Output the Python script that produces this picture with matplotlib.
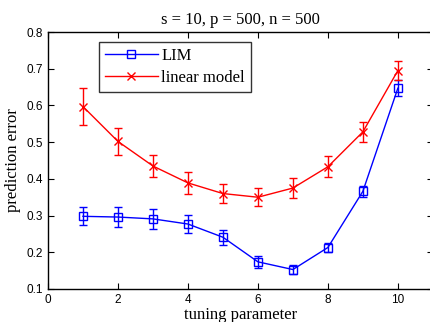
import numpy as np
import matplotlib
matplotlib.use("Agg")
import matplotlib.pyplot as plt
from matplotlib.lines import Line2D

# tuning parameter values
tuning = [1, 2, 3, 4, 5, 6, 7, 8, 9, 10]

# LIM prediction error and error bars
lim_err = [0.298, 0.296, 0.291, 0.277, 0.241, 0.174, 0.153, 0.213, 0.366, 0.647]
lim_sd = [0.025, 0.028, 0.027, 0.024, 0.020, 0.016, 0.013, 0.013, 0.015, 0.022]

# linear model prediction error and error bars
lin_err = [0.597, 0.502, 0.435, 0.389, 0.360, 0.350, 0.375, 0.433, 0.528, 0.695]
lin_sd = [0.050, 0.037, 0.030, 0.029, 0.026, 0.025, 0.028, 0.029, 0.027, 0.027]

serif = ['Liberation Serif', 'DejaVu Serif']
sans = ['Liberation Sans', 'DejaVu Sans']

fig = plt.figure(figsize=(4.3, 3.22), dpi=100)
ax = fig.add_axes([0.1116, 0.1025, 0.895, 0.798])

ax.errorbar(tuning, lim_err, yerr=lim_sd, color='#0000ff', marker='s',
            markersize=5.5, markerfacecolor='none', markeredgewidth=1.0,
            linewidth=1.0, elinewidth=1.0, capsize=3)
ax.errorbar(tuning, lin_err, yerr=lin_sd, color='#ff0000', marker='x',
            markersize=6, markeredgewidth=1.0,
            linewidth=1.0, elinewidth=1.0, capsize=3)

ax.set_xlim(0, 11)
ax.set_ylim(0.1, 0.8)
ax.set_xticks([0, 2, 4, 6, 8, 10])
ax.set_yticks(np.round(np.arange(0.1, 0.81, 0.1), 1))
ax.tick_params(direction='in', top=True, right=True, length=4, width=0.8,
               labelsize=8.5)
for lbl in ax.get_xticklabels() + ax.get_yticklabels():
    lbl.set_family(sans)
for s in ax.spines.values():
    s.set_linewidth(1.0)

ax.set_title('s = 10, p = 500, n = 500', family=serif, fontsize=12, pad=6)
ax.set_xlabel('tuning parameter', family=serif, fontsize=12, labelpad=1)
ax.set_ylabel('prediction error', family=serif, fontsize=12, labelpad=4)

handles = [
    Line2D([], [], color='#0000ff', marker='s', markersize=5.5,
           markerfacecolor='none', linewidth=1.0),
    Line2D([], [], color='#ff0000', marker='x', markersize=6, linewidth=1.0),
]
leg = ax.legend(handles, ['LIM', 'linear model'], loc='upper left',
                bbox_to_anchor=(0.132, 0.961),
                prop={'family': serif, 'size': 12}, frameon=True,
                fancybox=False, edgecolor='black', handlelength=3.2,
                borderpad=0.35, labelspacing=0.35, handletextpad=0.2,
                borderaxespad=0)
leg.get_frame().set_linewidth(1.0)

fig.savefig('out.png', dpi=100)
